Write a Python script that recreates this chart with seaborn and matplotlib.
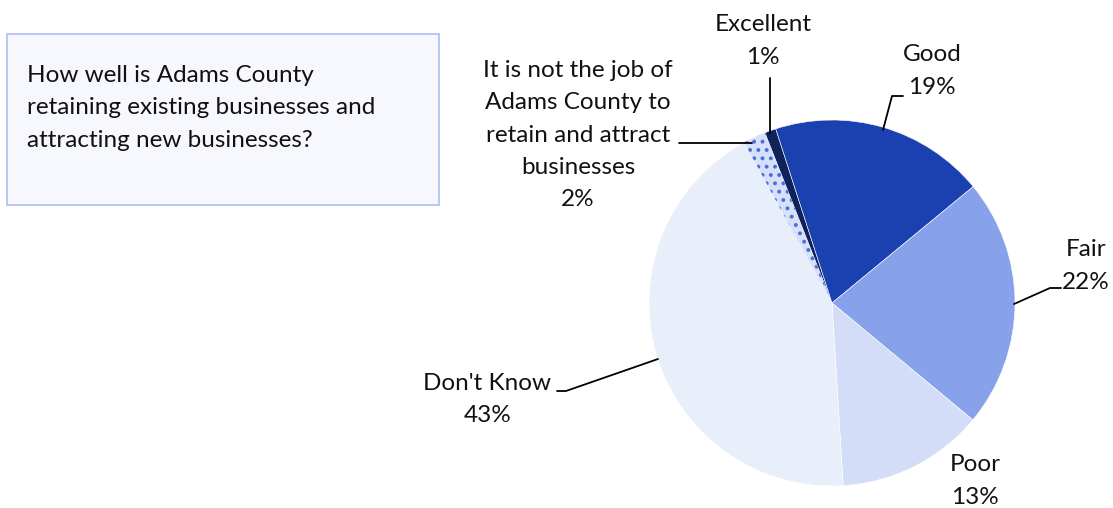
import numpy as np
import pandas as pd
import matplotlib.pyplot as plt
import seaborn as sns

# Answers to the Adams County business question
categories = ["Excellent", "Good", "Fair", "Poor", "Don't Know",
              "It is not the job of\nAdams County to\nretain and attract\nbusinesses"]
shares = [1, 19, 22, 13, 43, 2]
colors = ["#0f2259", "#1b41b0", "#87a2ea", "#d3ddf7", "#e9eefb", "#d6e0f8"]
question = "How well is Adams County\nretaining existing businesses and\nattracting new businesses?"

df = pd.DataFrame({"answer": categories, "share": shares})

sns.set_theme(style="white")
plt.rcParams['font.family'] = ['Lato', 'DejaVu Sans']
plt.rcParams['hatch.linewidth'] = 1.6

W, H = 1113, 508
fig = plt.figure(figsize=(W / 100, H / 100), dpi=100)
ax = fig.add_axes([0, 0, 1, 1])

# pixel -> data (y up)
def P(x, y):
    return (x, H - y)

cx, cy = P(832, 303)
wedges, _ = ax.pie(df["share"], colors=colors, startangle=111.5, counterclock=False,
                   center=(cx, cy), radius=183, frame=True,
                   wedgeprops=dict(linewidth=0.4, edgecolor="white"))
ax.set_xlim(0, W)
ax.set_ylim(0, H)
ax.set_aspect('equal')
ax.axis('off')

# dotted slice for "not the job"
w = wedges[5]
w.set_edgecolor("#4a6fd8")
w.set_linewidth(0)
w.set_hatch("..")

fs = 17.5
ls = 1.65
pct = [f"{v}%" for v in shares]

def label(x, y, txt, ha="center"):
    ax.text(*P(x, y), txt, ha=ha, va="center", fontsize=fs, color="#111111",
            linespacing=ls, multialignment="center")

label(763, 41, categories[0] + "\n" + pct[0])
label(932, 71, categories[1] + "\n" + pct[1])
label(1110, 266, categories[2] + "\n" + pct[2], ha="right")
label(975, 481, categories[3] + "\n" + pct[3])
ax.text(*P(551, 383), "Don't Know", ha="right", va="center", fontsize=fs, color="#111111")
label(488, 415, pct[4])
label(578, 135, categories[5] + "\n" + pct[5])

lc = dict(color="black", lw=1.3)
ax.plot(*zip(P(770, 78), P(770, 133)), **lc)
ax.plot(*zip(P(903, 96), P(892, 96), P(883, 130)), **lc)
ax.plot(*zip(P(1061, 288), P(1050, 288), P(1014, 304)), **lc)
ax.plot(*zip(P(557, 391), P(566, 391), P(658, 359)), **lc)
ax.plot(*zip(P(679, 143), P(752, 143)), **lc)

# question box
box = plt.Rectangle(P(7, 205), 432, 171, facecolor="#f7f8fd", edgecolor="#a9bff2", lw=1.2)
ax.add_patch(box)
ax.text(*P(27, 108), question, ha="left", va="center", fontsize=fs,
        color="#111111", linespacing=ls)

fig.savefig("out.png", dpi=100)
